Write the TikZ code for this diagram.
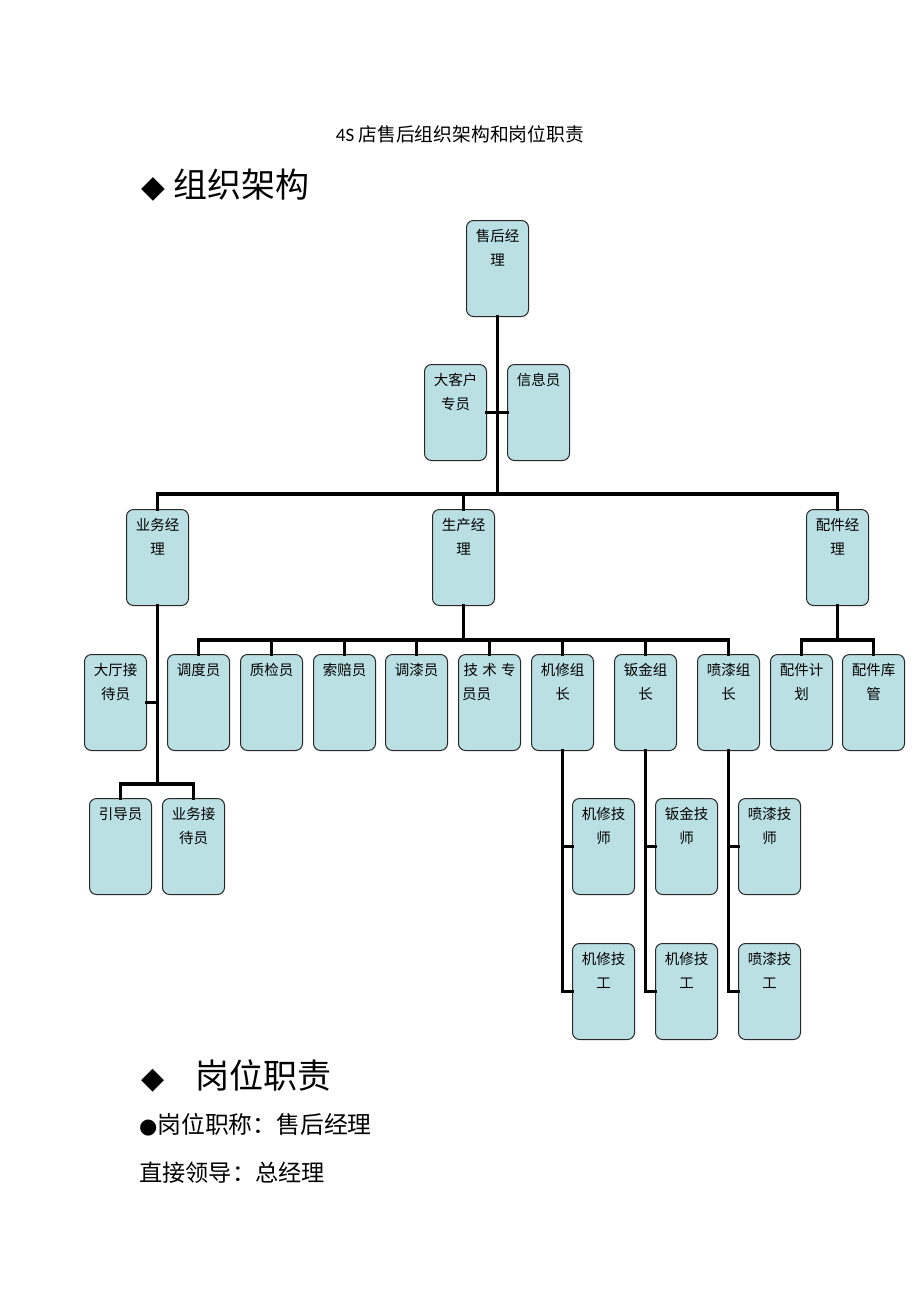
\documentclass[tikz,border=0pt]{standalone}
\usepackage{fontspec}
\newfontfamily\cjk{Noto Sans CJK SC}
\newfontfamily\dvfont{DejaVu Sans}
\newfontfamily\calfont{Carlito}
\definecolor{boxfill}{RGB}{187,224,228}
\definecolor{boxline}{RGB}{40,40,40}
\tikzset{
  bx/.style={draw=boxline, line width=1pt, fill=boxfill, rounded corners=7pt,
    minimum width=62pt, minimum height=96pt, inner sep=0pt, anchor=north west},
  bt/.style={anchor=base, inner sep=0pt, font=\cjk\fontsize{14.5}{16}\selectfont},
  conn/.style={draw=black, line width=3.8pt, line join=miter, line cap=rect},
}
\newcommand\orgbox[5]{%
  \node[bx] (#1) at (#2,#3) {};
  \node[bt] (#1-a) at ([yshift=-21.5pt]#1.north) {#4};
  \node[bt] (#1-b) at ([yshift=-45.5pt]#1.north) {#5};
}
\begin{document}
\begin{tikzpicture}[x=1pt,y=-1pt]
\useasboundingbox[fill=white] (0,0) rectangle (920,1302);

% titles
\node[anchor=base, inner sep=0pt] (title) at (460,141) {\calfont\fontsize{19}{21}\selectfont 4S\ \cjk\fontsize{18.8}{21}\selectfont 店售后组织架构和岗位职责};
\node[anchor=base west, inner sep=0pt] (h1d) at (141,197) {\dvfont\fontsize{31}{34}\selectfont ◆};
\node[anchor=base west, inner sep=0pt] (h1) at (173,197) {\cjk\fontsize{34}{38}\selectfont 组织架构};
\node[anchor=base west, inner sep=0pt] (h2d) at (141,1088) {\dvfont\fontsize{30}{34}\selectfont ◆};
\node[anchor=base west, inner sep=0pt] (h2) at (195,1088) {\cjk\fontsize{34}{38}\selectfont 岗位职责};
\node[anchor=base west, inner sep=0pt] (p1) at (139,1133) {\dvfont\fontsize{21}{24}\selectfont ●\cjk\fontsize{23.8}{26}\selectfont 岗位职称：售后经理};
\node[anchor=base west, inner sep=0pt] (p2) at (139,1181) {\cjk\fontsize{23.2}{26}\selectfont 直接领导：总经理};

% boxes
\orgbox{shjl}{466}{220}{售后经}{理}
\orgbox{dkh}{424}{364}{大客户}{专员}
\orgbox{xxy}{507}{364}{信息员}{}
\orgbox{ywjl}{126}{509}{业务经}{理}
\orgbox{scjl}{432}{509}{生产经}{理}
\orgbox{pjjl}{806}{509}{配件经}{理}
\orgbox{dtjd}{84}{654}{大厅接}{待员}
\orgbox{ddy}{167}{654}{调度员}{}
\orgbox{zjy}{240}{654}{质检员}{}
\orgbox{spy}{313}{654}{索赔员}{}
\orgbox{tqy}{385}{654}{调漆员}{}
\node[bx] (jszy) at (458,654) {};
\node[bt, text width=52pt, align=justify] (jszy-a) at ([yshift=-21.5pt]jszy.north) {技\hfill 术\hfill 专};
\node[bt, anchor=base west] (jszy-b) at ([xshift=4pt,yshift=-45.5pt]jszy.north west) {员员};
\orgbox{jxzz}{531}{654}{机修组}{长}
\orgbox{bjzz}{614}{654}{钣金组}{长}
\orgbox{pqzz}{697}{654}{喷漆组}{长}
\orgbox{pjjh}{770}{654}{配件计}{划}
\orgbox{pjkg}{842}{654}{配件库}{管}
\orgbox{ydy}{89}{798}{引导员}{}
\orgbox{ywjd}{162}{798}{业务接}{待员}
\orgbox{jxjs}{572}{798}{机修技}{师}
\orgbox{bjjs}{655}{798}{钣金技}{师}
\orgbox{pqjs}{738}{798}{喷漆技}{师}
\orgbox{jxjg}{572}{943}{机修技}{工}
\orgbox{bjjg}{655}{943}{机修技}{工}
\orgbox{pqjg}{738}{943}{喷漆技}{工}

% bus coordinates
\coordinate (bus1) at (0,494);
\coordinate (bus2) at (0,640);
\coordinate (bus3) at (0,784);

% connectors
\draw[conn] (shjl.south) -- (shjl.south |- bus1);
\draw[conn] (dkh.east) -- (xxy.west);
\draw[conn] (ywjl.north) -- (ywjl.north |- bus1) -- (pjjl.north |- bus1) -- (pjjl.north);
\draw[conn] (scjl.north) -- (scjl.north |- bus1);

\draw[conn] (scjl.south) -- (scjl.south |- bus2);
\draw[conn] (ddy.north) -- (ddy.north |- bus2) -- (pqzz.north |- bus2) -- (pqzz.north);
\foreach \n in {zjy,spy,tqy,jszy,jxzz,bjzz}{
  \draw[conn] (\n.north) -- (\n.north |- bus2);
}
\draw[conn] (pjjl.south) -- (pjjl.south |- bus2);
\draw[conn] (pjjh.north) -- (pjjh.north |- bus2) -- (pjkg.north |- bus2) -- (pjkg.north);

\draw[conn] (ywjl.south) -- (ywjl.south |- bus3);
\draw[conn] (dtjd.east) -- (dtjd.east -| ywjl.south);
\draw[conn] (ydy.north) -- (ydy.north |- bus3) -- (ywjd.north |- bus3) -- (ywjd.north);

\draw[conn] (jxzz.south) |- (jxjg.west);
\draw[conn] (jxjs.west) -- (jxjs.west -| jxzz.south);
\draw[conn] (bjzz.south) |- (bjjg.west);
\draw[conn] (bjjs.west) -- (bjjs.west -| bjzz.south);
\draw[conn] (pqzz.south) |- (pqjg.west);
\draw[conn] (pqjs.west) -- (pqjs.west -| pqzz.south);
\end{tikzpicture}
\end{document}
